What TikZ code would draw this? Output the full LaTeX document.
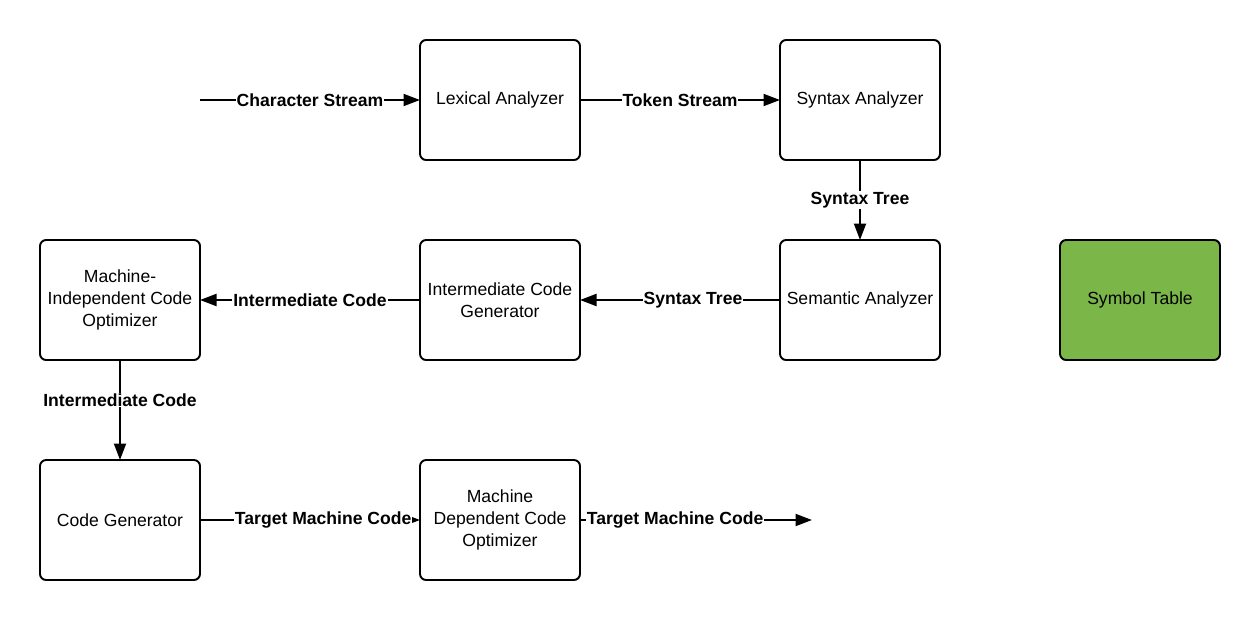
\documentclass[tikz,border=0pt]{standalone}
\usepackage{fontspec}
\setmainfont{Liberation Sans}
\usepackage{xcolor}
\definecolor{symgreen}{HTML}{7AB648}
\usetikzlibrary{arrows.meta, positioning}

\begin{document}
\begin{tikzpicture}[
  phase/.style={rectangle, rounded corners=3.5pt, draw, line width=1.1pt,
    outer sep=0pt, minimum width=3.2cm, minimum height=2.4cm, align=center,
    font=\fontsize{10}{12.5}\selectfont},
  arrow/.style={-{Triangle[length=0.33cm, width=0.24cm]}, line width=1.1pt},
  flow/.style={fill=white, inner sep=0.5pt, font=\fontsize{10}{12.5}\selectfont\bfseries}
]
\useasboundingbox (0,0) rectangle (25.2,12.4);

\node[phase] (lex) at (10,10.4) {Lexical Analyzer};
\node[phase, right=4cm of lex] (syn) {Syntax Analyzer};
\node[phase, below=1.6cm of syn] (sem) {Semantic Analyzer};
\node[phase, left=4cm of sem] (icg) {Intermediate Code\\Generator};
\node[phase, left=4.4cm of icg] (mic) {Machine-\\Independent Code\\Optimizer};
\node[phase, fill=symgreen, right=2.4cm of sem] (symtab) {Symbol Table};
\node[phase, below=2cm of mic] (cg) {Code Generator};
\node[phase, right=4.4cm of cg] (mdco) {Machine\\Dependent Code\\Optimizer};

\coordinate[left=4.4cm of lex] (src);
\coordinate[right=4.64cm of mdco] (out);

\draw[arrow] (src) -- node[flow] {Character Stream} (lex);
\draw[arrow] (lex) -- node[flow] {Token Stream} (syn);
\draw[arrow] (syn) -- node[flow] {Syntax Tree} (sem);
\draw[arrow] (sem) -- node[flow, pos=0.435] {Syntax Tree} (icg);
\draw[arrow] (icg) -- node[flow] {Intermediate Code} (mic);
\draw[arrow] (mic) -- node[flow, pos=0.4] {Intermediate Code} (cg);
\draw[arrow] (cg) -- node[flow, pos=0.56] {Target Machine Code} (mdco);
\draw[arrow] (mdco) -- node[flow, pos=0.41] {Target Machine Code} (out);
\end{tikzpicture}
\end{document}
